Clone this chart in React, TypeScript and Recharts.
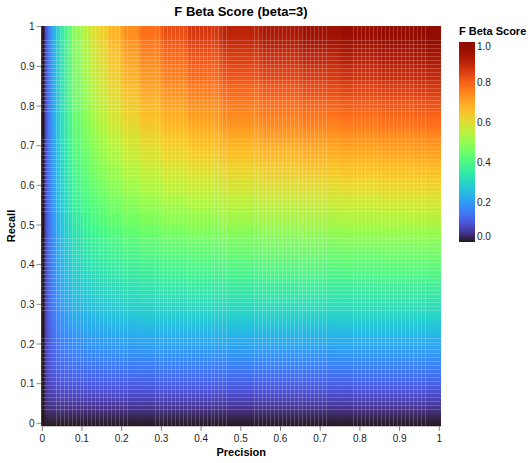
import React from "react";
import { ScatterChart, Scatter, XAxis, YAxis } from "recharts";

const FONT = "'Liberation Sans', Arial, Helvetica, sans-serif";
const chartTitle = "F Beta Score (beta=3)";
const legendTitle = "F Beta Score";
const xTitle = "Precision";
const yTitle = "Recall";
const axisTicks = [0, 0.1, 0.2, 0.3, 0.4, 0.5, 0.6, 0.7, 0.8, 0.9, 1];
const legendLabels = ["1.0", "0.8", "0.6", "0.4", "0.2", "0.0"];

// cell edges (precision columns, recall rows)
const precisionEdges = [-0.002, 0.005, 0.015, 0.025, 0.035, 0.045, 0.055, 0.065, 0.075, 0.1, 0.12, 0.14, 0.165, 0.2, 0.245, 0.3, 0.365, 0.45, 0.55, 0.65, 0.75, 0.85, 0.935, 1.0043];
const recallEdges = [-0.0068, 0.005, 0.015, 0.025, 0.035, 0.05, 0.07, 0.09, 0.11, 0.14, 0.17, 0.2, 0.23, 0.26, 0.29, 0.32, 0.35, 0.38, 0.41, 0.44, 0.47, 0.5, 0.54, 0.58, 0.62, 0.66, 0.7, 0.74, 0.78, 0.82, 0.86, 0.9, 0.94, 0.97, 1.0018];

// score read for each cell, bottom row first
const r00 = [0,0,0,0,0,0,0,0,0,0,0,0,0,0,0,0,0,0,0,0,0,0,0];
const r01 = [0,.01,.01,.01,.01,.01,.01,.01,.01,.01,.01,.01,.01,.011,.011,.011,.011,.011,.011,.011,.011,.011,.011];
const r02 = [0,.018,.02,.021,.021,.021,.021,.021,.022,.022,.022,.022,.022,.022,.022,.022,.022,.022,.022,.022,.022,.022,.022];
const r03 = [0,.025,.029,.03,.031,.031,.032,.032,.032,.032,.032,.033,.033,.033,.033,.033,.033,.033,.033,.033,.033,.033,.033];
const r04 = [0,.031,.036,.039,.04,.041,.041,.042,.042,.043,.043,.043,.043,.044,.044,.044,.044,.044,.044,.044,.044,.044,.044];
const r06 = [0,.04,.05,.055,.057,.059,.06,.061,.062,.063,.063,.064,.064,.065,.065,.065,.066,.066,.066,.066,.066,.066,.066];
const r08 = [0,.047,.062,.069,.073,.075,.077,.079,.081,.082,.083,.084,.085,.085,.086,.087,.087,.087,.088,.088,.088,.088,.088];
const r10 = [0,.053,.071,.081,.087,.091,.094,.096,.099,.101,.102,.103,.105,.106,.107,.108,.108,.109,.109,.109,.11,.11,.11];
const r12 = [0,.058,.082,.095,.103,.109,.113,.116,.12,.123,.125,.127,.129,.131,.132,.133,.134,.135,.136,.136,.137,.137,.137];
const r15 = [0,.063,.093,.11,.12,.128,.134,.138,.145,.149,.152,.155,.157,.16,.162,.164,.165,.167,.168,.168,.169,.169,.169];
const r18 = [0,.067,.101,.122,.136,.146,.153,.159,.168,.173,.178,.181,.185,.188,.191,.194,.196,.198,.199,.2,.201,.201,.201];
const r21 = [0,.07,.109,.133,.149,.162,.171,.178,.189,.196,.202,.206,.211,.216,.219,.223,.225,.228,.23,.231,.232,.233,.233];
const r24 = [0,.073,.115,.143,.162,.176,.187,.196,.209,.218,.225,.23,.236,.243,.248,.252,.255,.258,.261,.262,.264,.264,.265];
const r27 = [0,.075,.121,.152,.173,.19,.202,.213,.228,.239,.248,.254,.261,.269,.275,.28,.284,.288,.291,.293,.295,.296,.296];
const r30 = [0,.077,.126,.159,.183,.202,.216,.228,.246,.259,.269,.276,.285,.294,.301,.308,.313,.317,.321,.323,.325,.327,.328];
const r33 = [0,.079,.13,.166,.193,.213,.229,.243,.263,.278,.289,.298,.308,.318,.327,.334,.34,.346,.35,.353,.355,.357,.358];
const r36 = [0,.08,.134,.172,.201,.224,.242,.256,.279,.296,.309,.318,.33,.342,.352,.361,.368,.375,.379,.383,.385,.387,.389];
const r39 = [0,.081,.137,.178,.209,.234,.253,.27,.295,.313,.328,.339,.352,.366,.377,.388,.395,.403,.409,.413,.416,.418,.42];
const r42 = [0,.083,.14,.183,.216,.243,.264,.282,.31,.33,.346,.358,.373,.389,.402,.413,.422,.431,.437,.442,.445,.448,.45];
const r45 = [0,.083,.143,.188,.223,.251,.274,.293,.324,.346,.364,.377,.394,.412,.426,.439,.448,.459,.466,.471,.475,.478,.48];
const r48 = [0,.084,.146,.193,.229,.259,.283,.304,.337,.361,.38,.395,.413,.433,.448,.463,.474,.485,.493,.499,.504,.507,.509];
const r52 = [0,.085,.149,.198,.236,.268,.294,.316,.352,.379,.4,.417,.437,.459,.476,.493,.505,.518,.527,.534,.539,.543,.546];
const r56 = [0,.086,.151,.202,.243,.277,.305,.329,.368,.397,.42,.439,.461,.485,.505,.524,.538,.552,.563,.57,.576,.581,.584];
const r60 = [0,.087,.154,.207,.25,.286,.315,.341,.383,.415,.441,.461,.485,.513,.535,.556,.571,.588,.6,.609,.615,.621,.624];
const r64 = [0,.088,.156,.211,.256,.293,.325,.352,.397,.431,.459,.481,.508,.538,.562,.585,.602,.621,.634,.644,.651,.657,.661];
const r68 = [0,.088,.158,.215,.262,.301,.334,.364,.412,.448,.478,.503,.532,.565,.592,.617,.637,.658,.672,.684,.692,.699,.703];
const r72 = [0,.089,.16,.218,.267,.308,.342,.373,.424,.463,.495,.521,.552,.588,.617,.645,.667,.69,.706,.718,.727,.735,.739];
const r76 = [0,.089,.162,.222,.272,.314,.351,.383,.437,.478,.513,.541,.575,.613,.645,.676,.699,.725,.742,.756,.766,.775,.779];
const r80 = [0,.09,.163,.224,.276,.32,.358,.391,.447,.491,.528,.557,.593,.635,.669,.702,.727,.755,.774,.789,.8,.809,.814];
const r84 = [0,.09,.165,.227,.28,.326,.365,.4,.459,.505,.543,.575,.613,.658,.694,.73,.758,.787,.808,.824,.837,.847,.853];
const r88 = [0,.091,.166,.23,.284,.331,.372,.408,.469,.518,.559,.592,.633,.68,.719,.758,.787,.82,.842,.86,.873,.884,.89];
const r92 = [0,.091,.167,.232,.287,.336,.377,.415,.478,.529,.571,.606,.649,.699,.741,.781,.813,.847,.872,.89,.905,.917,.923];
const r95 = [0,.091,.168,.234,.291,.34,.383,.422,.488,.541,.585,.621,.667,.719,.763,.806,.84,.877,.903,.923,.939,.951,.959];
const r98 = [0,.092,.169,.236,.293,.343,.387,.427,.494,.548,.594,.631,.678,.733,.779,.824,.859,.898,.925,.946,.962,.976,.983];
const scoreRows = [r00,r01,r02,r03,r04,r06,r08,r10,r12,r15,r18,r21,r24,r27,r30,r33,r36,r39,r42,r45,r48,r52,r56,r60,r64,r68,r72,r76,r80,r84,r88,r92,r95,r98];

// faint seams between the fine bins, which show in four runs on each axis
const seamRuns = [[3, 21], [28, 46], [53, 71], [78, 96]];
const seamLevels: number[] = [];
seamRuns.forEach(([a, b]) => { for (let i = a; i <= b; i++) seamLevels.push((i + 0.5) / 100); });

const cells = scoreRows.flatMap((row, ri) =>
  row.map((score, ci) => ({
    precision: (precisionEdges[ci] + precisionEdges[ci + 1]) / 2,
    recall: (recallEdges[ri] + recallEdges[ri + 1]) / 2,
    score,
    w: precisionEdges[ci + 1] - precisionEdges[ci],
    h: recallEdges[ri + 1] - recallEdges[ri],
    first: ci === 0,
    last: ci === row.length - 1,
    bottom: ri === 0,
    top: ri === scoreRows.length - 1,
  }))
);
const zeroColumn = cells.filter((c) => c.first);
const verticalSeams = seamLevels.map((v) => ({ precision: v, recall: 0.5 }));
const horizontalSeams = seamLevels.map((v) => ({ precision: 0.5, recall: v }));

function turbo(v: number) {
  const t = Math.max(0, Math.min(1, v));
  const r = 34.61 + t * (1172.33 - t * (10793.56 - t * (33300.12 - t * (38394.49 - t * 14825.05))));
  const g = 23.31 + t * (557.33 + t * (1225.33 - t * (3574.96 - t * (1073.77 + t * 707.56))));
  const b = 27.2 + t * (3211.1 - t * (15327.97 - t * (27814 - t * (22569.18 - t * 6838.66))));
  const c = (x: number) => Math.max(0, Math.min(255, Math.round(x)));
  return `rgb(${c(r)},${c(g)},${c(b)})`;
}

const PX_X = 397;
const PX_Y = 396.6;
const PAD = 24;
const PLOT = { left: 41.5, top: 26, width: 399.5, height: 400 };
const SEAM_OPACITY = 0.2;

function CellShape(props: any) {
  const { cx, cy, payload } = props;
  const w = payload.w * PX_X;
  const h = payload.h * PX_Y;
  const x0 = cx - w / 2 - (payload.first ? PAD : 0);
  const x1 = cx + w / 2 + (payload.last ? PAD : 0.4);
  const y0 = cy - h / 2 - (payload.top ? PAD : 0);
  const y1 = cy + h / 2 + (payload.bottom ? PAD : 0.4);
  return <rect x={x0} y={y0} width={x1 - x0} height={y1 - y0} fill={turbo(payload.score)} />;
}

function ZeroCellShape(props: any) {
  const { cx, cy, payload } = props;
  const w = payload.w * PX_X;
  const h = payload.h * PX_Y;
  return <rect x={cx - w / 2} y={cy - h / 2} width={w} height={h + 0.4} fill={turbo(payload.score)} />;
}

function VerticalSeam(props: any) {
  const x = Math.floor(props.cx) + 0.5;
  return <line x1={x} x2={x} y1={PLOT.top} y2={PLOT.top + PLOT.height} stroke="#fff" strokeOpacity={SEAM_OPACITY} />;
}
function HorizontalSeam(props: any) {
  const y = Math.floor(props.cy) + 0.5;
  return <line y1={y} y2={y} x1={PLOT.left} x2={PLOT.left + PLOT.width} stroke="#fff" strokeOpacity={SEAM_OPACITY} />;
}

const gradientStops = [0, 0.05, 0.1, 0.15, 0.2, 0.25, 0.3, 0.35, 0.4, 0.45, 0.5, 0.55, 0.6, 0.65, 0.7, 0.75, 0.8, 0.85, 0.9, 0.95, 1];
const tickStyle = { fontFamily: FONT, fontSize: 10, fill: "#222" };

export default function App() {
  return (
    <div style={{ position: "absolute", left: 0, top: 0, width: 532, height: 463, background: "#fff" }}>
      <style>{`.heat-cells { filter: url(#heatSmooth); clip-path: url(#heatClip); }`}</style>
      <ScatterChart width={532} height={463} margin={{ top: 26, right: 91, bottom: 0, left: 0 }}>
        <defs>
          <linearGradient id="turboLegend" x1="0" y1="1" x2="0" y2="0">
            {gradientStops.map((s) => (
              <stop key={s} offset={s} stopColor={turbo(s)} />
            ))}
          </linearGradient>
          <filter id="heatSmooth" filterUnits="userSpaceOnUse" x="0" y="0" width="532" height="463" colorInterpolationFilters="sRGB">
            <feGaussianBlur stdDeviation="1.2 4" />
          </filter>
          <clipPath id="heatClip">
            <rect x={PLOT.left} y={PLOT.top} width={PLOT.width} height={PLOT.height} />
          </clipPath>
        </defs>
        <XAxis
          type="number"
          dataKey="precision"
          domain={[-0.002, 1.0043]}
          allowDataOverflow
          ticks={axisTicks}
          interval={0}
          height={37}
          tickSize={5}
          tickMargin={4}
          stroke="#888"
          tick={tickStyle}
          label={{ value: xTitle, position: "insideBottom", offset: 7, style: { fontFamily: FONT, fontSize: 11, fontWeight: "bold", fill: "#000" } }}
        />
        <YAxis
          type="number"
          dataKey="recall"
          domain={[-0.0068, 1.0018]}
          allowDataOverflow
          ticks={axisTicks}
          interval={0}
          width={41.5}
          tickSize={5}
          tickMargin={2}
          stroke="#888"
          tick={tickStyle}
          label={{ value: yTitle, angle: -90, position: "insideLeft", offset: 11, style: { fontFamily: FONT, fontSize: 11, fontWeight: "bold", fill: "#000", textAnchor: "middle" } }}
        />
        <Scatter className="heat-cells" data={cells} isAnimationActive={false} shape={CellShape} />
        <Scatter data={zeroColumn} isAnimationActive={false} shape={ZeroCellShape} />
        <Scatter data={verticalSeams} isAnimationActive={false} shape={VerticalSeam} />
        <Scatter data={horizontalSeams} isAnimationActive={false} shape={HorizontalSeam} />
        <text x={241} y={16} textAnchor="middle" style={{ fontFamily: FONT, fontSize: 13, fontWeight: "bold", fill: "#000" }}>
          {chartTitle}
        </text>
        <text x={459} y={35} style={{ fontFamily: FONT, fontSize: 11, fontWeight: "bold", fill: "#000" }}>
          {legendTitle}
        </text>
        <rect x={459} y={42} width={16} height={200} fill="url(#turboLegend)" />
        {legendLabels.map((l, i) => (
          <text key={l} x={477} y={[50.3, 85.5, 125.5, 165.5, 205.5, 240.3][i]} style={{ fontFamily: FONT, fontSize: 10, fill: "#222" }}>
            {l}
          </text>
        ))}
      </ScatterChart>
    </div>
  );
}
